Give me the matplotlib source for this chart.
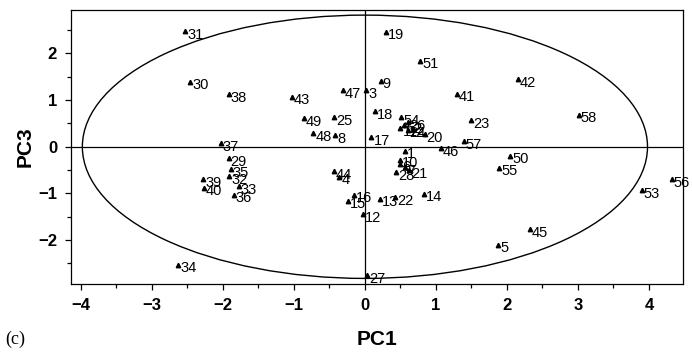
import matplotlib.pyplot as plt
from matplotlib.patches import Ellipse

plt.rcParams["font.family"] = ["Liberation Sans", "DejaVu Sans"]

# PCA scores per sample
sample_ids = list(range(1, 59))
pc1 = [0.56, 0.68, 0.02, -0.36, 1.88, 0.50, 0.56, -0.42, 0.22, 0.49,
       0.50, -0.03, 0.21, 0.83, -0.24, -0.16, 0.09, 0.14, 0.30, 0.84,
       0.62, 0.42, 1.50, 0.60, -0.44, 0.60, 0.03, 0.44, -1.92, -2.46,
       -2.53, -1.91, -1.78, -2.63, -1.89, -1.85, -2.03, -1.92, -2.28, -2.27,
       1.29, 2.15, -1.03, -0.44, 2.32, 1.07, -0.31, -0.73, -0.86, 2.05,
       0.78, 0.55, 3.90, 0.51, 1.89, 4.32, 1.39, 3.01]
pc3 = [-0.09, 0.38, 1.21, -0.64, -2.10, -0.36, -0.44, 0.25, 1.41, -0.28,
       0.40, -1.44, -1.11, -1.01, -1.16, -1.03, 0.20, 0.76, 2.46, 0.27,
       -0.50, -1.08, 0.57, 0.36, 0.63, 0.52, -2.75, -0.55, -0.25, 1.39,
       2.47, -0.63, -0.84, -2.53, -0.48, -1.03, 0.07, 1.12, -0.70, -0.88,
       1.14, 1.45, 1.07, -0.52, -1.77, -0.03, 1.21, 0.29, 0.61, -0.19,
       1.84, 0.46, -0.93, 0.63, -0.45, -0.70, 0.12, 0.69]

# 95% confidence ellipse (semi-axes)
ellipse_a = 3.98
ellipse_b = 2.82

fig = plt.figure(figsize=(6.92, 3.54), dpi=100)
ax = fig.add_axes([0.1026, 0.1977, 0.8844, 0.7741])

ax.axhline(0, color="black", linewidth=0.9, zorder=1)
ax.axvline(0, color="black", linewidth=0.9, zorder=1)
ax.add_patch(Ellipse((0, 0), 2 * ellipse_a, 2 * ellipse_b, fill=False,
                     edgecolor="black", linewidth=1.0, zorder=2))

ax.plot(pc1, pc3, linestyle="none", marker="^", markersize=3.2,
        color="black", zorder=3)
for sid, x, y in zip(sample_ids, pc1, pc3):
    ax.annotate(str(sid), (x, y), xytext=(1.5, 2.5), textcoords="offset points",
                ha="left", va="top", fontsize=10.5, zorder=4)

ax.set_xlim(-4.14, 4.48)
ax.set_ylim(-2.94, 2.93)
ax.set_xticks([-4, -3, -2, -1, 0, 1, 2, 3, 4])
ax.set_xticks([-3.5, -2.5, -1.5, -0.5, 0.5, 1.5, 2.5, 3.5], minor=True)
ax.set_yticks([-2, -1, 0, 1, 2])
ax.set_yticks([-2.5, -1.5, -0.5, 0.5, 1.5, 2.5], minor=True)
ax.tick_params(which="major", direction="out", length=4, width=0.9,
               labelsize=12, pad=6)
ax.tick_params(which="minor", direction="out", length=3, width=0.9)
for lbl in ax.get_xticklabels() + ax.get_yticklabels():
    lbl.set_fontweight("bold")
for spine in ax.spines.values():
    spine.set_linewidth(0.9)

fig.text(0.545, 0.04, "PC1", ha="center", va="center", fontsize=15,
         fontweight="bold")
fig.text(0.036, 0.585, "PC3", ha="center", va="center", rotation=90,
         fontsize=15, fontweight="bold")
fig.text(0.008, 0.04, "(c)", ha="left", va="center", fontsize=13,
         family="Liberation Serif")

fig.savefig("out.png", dpi=100, facecolor="white")
